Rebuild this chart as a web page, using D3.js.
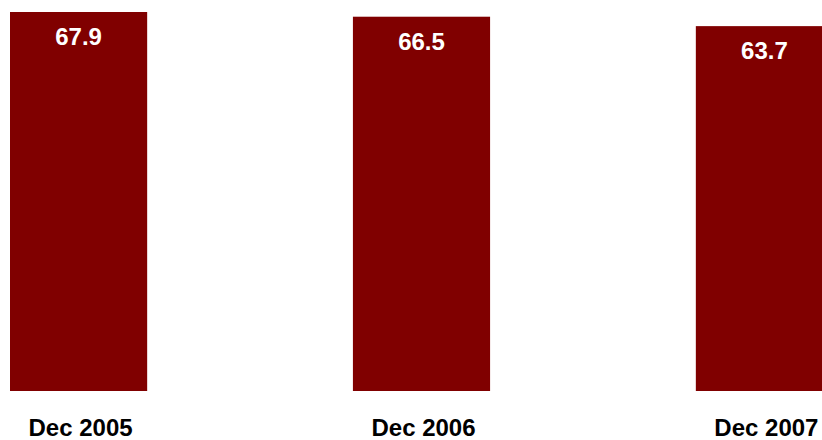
<!DOCTYPE html>
<html>
<head>
<meta charset="utf-8">
<script src="https://cdn.jsdelivr.net/npm/d3@7"></script>
<style>
  html, body { margin: 0; padding: 0; background: #fff; }
  svg { display: block; }
  text { font-family: "Liberation Sans", Arial, sans-serif; font-weight: bold; }
</style>
</head>
<body>
<div id="chart"></div>
<script>
var categories = ["Dec 2005", "Dec 2006", "Dec 2007"];
var values = [67.9, 66.5, 63.7];

var width = 822, height = 440;
var baseline = 391;

var svg = d3.select("#chart")
    .append("svg")
    .attr("width", width)
    .attr("height", height);

// bars run past the right edge in the original, so the band range goes beyond 822
var x = d3.scaleBand()
    .domain(categories)
    .range([10, 833])
    .paddingInner(0.6)
    .paddingOuter(0);

// value axis does not start at zero in the source picture
var y = d3.scaleLinear()
    .domain([-44.75, 67.9])
    .range([baseline, 12]);

svg.selectAll("rect.bar")
    .data(values)
    .enter().append("rect")
    .attr("class", "bar")
    .attr("x", function(d, i) { return x(categories[i]); })
    .attr("y", function(d) { return y(d); })
    .attr("width", x.bandwidth())
    .attr("height", function(d) { return baseline - y(d); })
    .attr("fill", "#800000");

svg.selectAll("text.value")
    .data(values)
    .enter().append("text")
    .attr("class", "value")
    .attr("x", function(d, i) { return x(categories[i]) + x.bandwidth() / 2; })
    .attr("y", function(d) { return y(d) + 33; })
    .attr("text-anchor", "middle")
    .attr("fill", "#fff")
    .style("font-size", "24px")
    .text(function(d) { return d3.format(".1f")(d); });

var xAxis = d3.axisBottom(x).tickSize(0).tickPadding(0);
var gx = svg.append("g")
    .attr("transform", "translate(0," + baseline + ")")
    .call(xAxis);
gx.select(".domain").remove();
gx.selectAll("text")
    .attr("dy", null)
    .attr("x", 2)
    .attr("y", 45)
    .attr("fill", "#000")
    .style("font-size", "24px")
    .style("font-family", "'Liberation Sans', Arial, sans-serif")
    .style("font-weight", "bold");
</script>
</body>
</html>
